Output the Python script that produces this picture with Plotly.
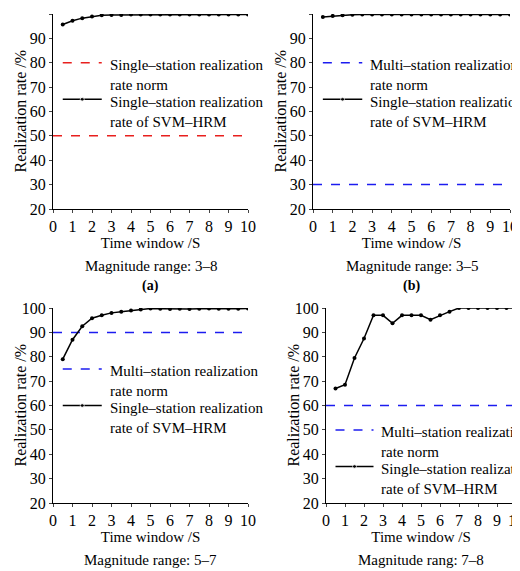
import plotly.graph_objects as go

# time window (s)
x_win = [0.5, 1, 1.5, 2, 2.5, 3, 3.5, 4, 4.5, 5, 5.5, 6, 6.5, 7, 7.5, 8, 8.5, 9, 9.5, 10]

rate_a = [95.7, 97.2, 98.3, 99.0, 99.5, 99.6, 99.6, 99.8, 99.8, 99.8,
          99.8, 99.8, 99.8, 99.8, 99.8, 99.8, 99.8, 99.8, 99.8, 99.8]
rate_b = [98.8, 99.2, 99.5, 99.7, 99.8, 99.8, 99.8, 99.8, 99.8, 99.8,
          99.8, 99.8, 99.8, 99.8, 99.8, 99.8, 99.8, 99.8, 99.8, 99.8]
rate_c = [79.0, 87.0, 92.5, 95.8, 97.0, 98.0, 98.5, 99.0, 99.4, 99.8,
          99.7, 99.6, 99.7, 99.6, 99.7, 99.8, 99.7, 99.7, 99.7, 99.8]
rate_d = [67.0, 68.5, 79.5, 87.5, 97.0, 97.0, 93.7, 97.0, 97.0, 97.0,
          95.2, 97.0, 98.5, 100, 100, 100, 100, 100, 100, 100]

norms = [50, 30, 90, 60]
norm_colors = ["#e8201e", "#1c1cf0", "#1c1cf0", "#1c1cf0"]
norm_labels = ["Single–station realization<br>rate norm",
               "Multi–station realization<br>rate norm",
               "Multi–station realization<br>rate norm",
               "Multi–station realization<br>rate norm"]
legend_y = [(80, 65), (80, 65), (75, 60), (50, 35)]
captions = ["Magnitude range: 3–8", "Magnitude range: 3–5",
            "Magnitude range: 5–7", "Magnitude rang: 7–8"]
letters = ["(a)", "(b)", "(c)", "(d)"]
series = [rate_a, rate_b, rate_c, rate_d]

FONT = "Liberation Serif"
W, H = 520, 571
# pixel boxes of each plot area: left, right, top, bottom
boxes = [(45, 240, 6, 201), (305, 502, 6, 201), (45, 240, 300, 495), (318, 508, 300, 495)]

fig = go.Figure()
for i, (ys, box) in enumerate(zip(series, boxes)):
    n = "" if i == 0 else str(i + 1)
    xa, ya = "x" + n, "y" + n
    l, r, t, b = box
    fig.add_trace(go.Scatter(x=[0, 10], y=[norms[i]] * 2, mode="lines", xaxis=xa, yaxis=ya,
                             line=dict(color=norm_colors[i], width=1.5, dash="dash"), showlegend=False))
    fig.add_trace(go.Scatter(x=x_win, y=ys, mode="lines+markers", xaxis=xa, yaxis=ya,
                             line=dict(color="black", width=1.5), marker=dict(size=4, color="black"),
                             showlegend=False))
    # legend samples
    y1, y2 = legend_y[i]
    fig.add_trace(go.Scatter(x=[0.5, 2.5], y=[y1, y1], mode="lines", xaxis=xa, yaxis=ya,
                             line=dict(color=norm_colors[i], width=1.5, dash="dash"), showlegend=False))
    fig.add_trace(go.Scatter(x=[0.5, 1.5, 2.5], y=[y2] * 3, mode="lines+markers", xaxis=xa, yaxis=ya,
                             line=dict(color="black", width=1.5), marker=dict(size=[0, 4, 0], color="black"),
                             showlegend=False))
    for yy, txt in [(y1, norm_labels[i]), (y2, "Single–station realization<br>rate of SVM–HRM")]:
        fig.add_annotation(x=2.8, y=yy + 3.2, xref=xa, yref=ya, text=txt, showarrow=False,
                           xanchor="left", yanchor="top", align="left",
                           font=dict(family=FONT, size=15, color="black"))
    ax = dict(domain=[l / W, r / W], range=[0, 10], dtick=1, ticks="outside", ticklen=3,
              showline=True, linecolor="black", linewidth=1, showgrid=False, zeroline=False,
              anchor=ya, automargin=False, tickfont=dict(family=FONT, size=16, color="black"),
              title=dict(text="Time window /S", font=dict(family=FONT, size=15, color="black"), standoff=0))
    ay = dict(domain=[1 - b / H, 1 - t / H], range=[20, 100], dtick=10, ticks="outside", ticklen=3,
              showline=True, linecolor="black", linewidth=1, showgrid=False, zeroline=False,
              anchor=xa, automargin=False, tickfont=dict(family=FONT, size=16, color="black"))
    fig.update_layout(**{"xaxis" + n: ax, "yaxis" + n: ay})
    fig.add_annotation(x=(l - 33) / W, y=1 - (t + b) / 2 / H, xref="paper", yref="paper",
                       text="Realization rate /%", textangle=-90, showarrow=False,
                       xanchor="center", yanchor="middle",
                       font=dict(family=FONT, size=16, color="black"))
    cx = (l + r) / 2 / W
    fig.add_annotation(x=cx, y=1 - (b + 57) / H, xref="paper", yref="paper", text=captions[i],
                       showarrow=False, xanchor="center", yanchor="middle",
                       font=dict(family=FONT, size=15, color="black"))
    fig.add_annotation(x=cx, y=1 - (b + 77) / H, xref="paper", yref="paper", text="<b>" + letters[i] + "</b>",
                       showarrow=False, xanchor="center", yanchor="middle",
                       font=dict(family=FONT, size=14, color="black"))

fig.update_layout(width=W, height=H, margin=dict(l=0, r=0, t=0, b=0),
                  plot_bgcolor="white", paper_bgcolor="white")
fig.write_html("out.html")
